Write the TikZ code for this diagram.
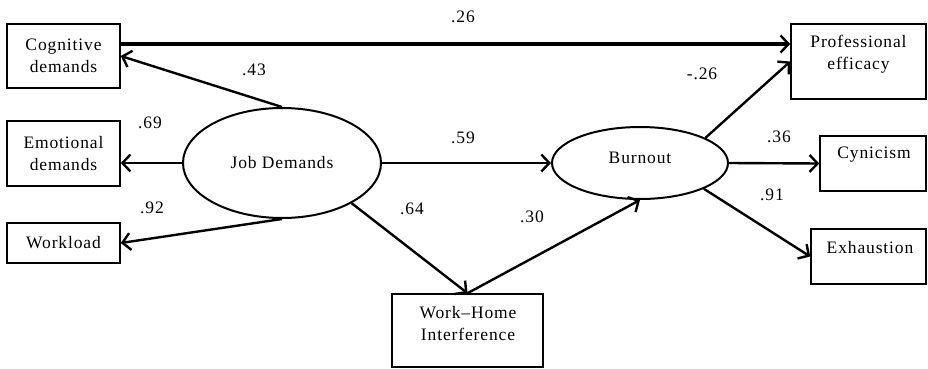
\documentclass[tikz,border=0pt]{standalone}
\usepackage{fontspec}
\setmainfont{Liberation Serif}[LetterSpace=5]
\usetikzlibrary{arrows.meta,shapes.geometric}
\begin{document}
\begin{tikzpicture}[x=1pt,y=-1pt,
  font=\fontsize{17.5}{22}\selectfont,
  box/.style={draw, line width=1.6pt, inner sep=0pt, align=center},
  latent/.style={draw, ellipse, line width=2pt, inner sep=0pt},
  txt/.style={inner sep=0pt, align=center},
  lab/.style={inner sep=1pt},
  arr/.style={line width=2.4pt, -{Straight Barb[length=8pt,width=17pt,line width=2.4pt]}},
  arrthick/.style={line width=3.6pt, -{Straight Barb[length=8pt,width=17pt,line width=2.4pt]}}]
\useasboundingbox (0,0) rectangle (928,369);
% observed variables (left)
\node[box, minimum width=113pt, minimum height=64pt] (cd) at (63.5,56) {Cognitive\\demands};
\node[box, minimum width=113pt, minimum height=65pt] (em) at (63.5,153.5) {Emotional\\demands};
\node[box, minimum width=113pt, minimum height=40pt] (wl) at (63.5,243) {Workload};
% latent variables
\node[latent, minimum width=198pt, minimum height=110pt] (jd) at (282,163) {Job Demands};
\node[latent, minimum width=176pt, minimum height=72pt] (bo) at (640,163) {};
\node[txt] (bot) at (640,158) {Burnout};
% right boxes
\node[box, minimum width=135pt, minimum height=75pt] (pe) at (858.5,61.5) {};
\node[txt] (pet) at (858.5,54) {Professional\\efficacy};
\node[box, minimum width=106pt, minimum height=55pt] (cy) at (873,163.5) {};
\node[txt] (cyt) at (874,155) {Cynicism};
\node[box, minimum width=115pt, minimum height=55pt] (ex) at (868.5,256.5) {};
\node[txt] (ext) at (870,248) {Exhaustion};
% mediator
\node[box, minimum width=151pt, minimum height=73pt] (wh) at (467.5,330.5) {};
\node[txt] (wht) at (468,324) {Work--Home\\Interference};
% connectors
\draw[arrthick] (cd.east |- 0,44) -- (pe.west |- 0,44);
\draw[arr] (jd.north) -- (cd.east);
\draw[arr] (jd.west) -- (em.east |- jd.west);
\draw[arr] (jd.south) -- (wl.east);
\draw[arr] (jd.east) -- (bo.west);
\draw[arr] (jd.-30) -- (wh.north);
\draw[arr] (wh.north) -- (bo.south);
\draw[arr] (bo.21) -- (pe.west);
\draw[arr] (bo.east) -- (cy.west);
\draw[arr] (bo.-22) -- (ex.west);
% labels
\node[lab] (l1) at (463,17) {.26};
\node[lab] (l2) at (254,70) {.43};
\node[lab] (l3) at (150,123) {.69};
\node[lab] (l4) at (152,208) {.92};
\node[lab] (l5) at (463,138) {.59};
\node[lab] (l6) at (412,209) {.64};
\node[lab] (l7) at (532,217) {.30};
\node[lab] (l8) at (702,74) {-.26};
\node[lab] (l9) at (779,137) {.36};
\node[lab] (l10) at (772,195) {.91};
\end{tikzpicture}
\end{document}
